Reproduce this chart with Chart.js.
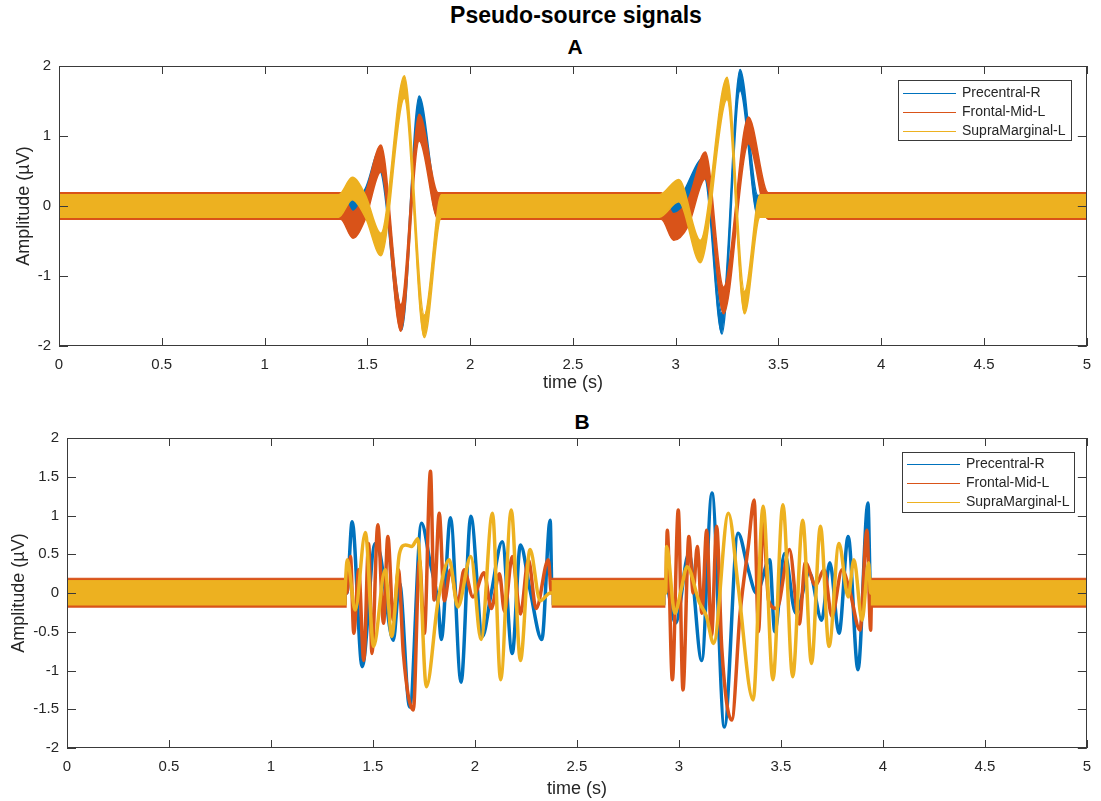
<!DOCTYPE html>
<html>
<head>
<meta charset="utf-8">
<script src="https://cdn.jsdelivr.net/npm/chart.js@4.4.1/dist/chart.umd.min.js"></script>
<style>
    html, body { margin: 0; padding: 0; background: #fff; }
    body { width: 1101px; height: 801px; position: relative; overflow: hidden;
           font-family: 'Liberation Sans', Arial, Helvetica, sans-serif; }
    .caption { position: absolute; transform: translateX(-50%); white-space: nowrap;
               font-weight: bold; color: #000; line-height: 1; }
    #mainTitle { left: 576px; top: 4px; font-size: 23px; }
    #titleA { left: 575px; top: 36px; font-size: 21px; }
    #titleB { left: 582px; top: 411px; font-size: 21px; }
    .panel { position: absolute; left: 0; }
    #panelA { top: 0; }
    #panelB { top: 400px; }
</style>
</head>
<body>
<div id="mainTitle" class="caption">Pseudo-source signals</div>
<div id="titleA" class="caption">A</div>
<div id="titleB" class="caption">B</div>
<canvas id="panelA" class="panel" width="1101" height="400"></canvas>
<canvas id="panelB" class="panel" width="1101" height="401"></canvas>
<script>
    // series names and colours (Precentral-R, Frontal-Mid-L, SupraMarginal-L)
    const seriesNames = ['Precentral-R', 'Frontal-Mid-L', 'SupraMarginal-L'];
    const seriesColors = ['#0072BD', '#D95319', '#EDB120'];

    const timeTicks = [0, 0.5, 1, 1.5, 2, 2.5, 3, 3.5, 4, 4.5, 5];
    const ampTicksA = [-2, -1, 0, 1, 2];
    const ampTicksB = [-2, -1.5, -1, -0.5, 0, 0.5, 1, 1.5, 2];

    // half-height of the noise band on each signal (µV)
    const noiseAmp = [0.15, 0.19, 0.16];

    // panel A: centre line of each signal (time in s, amplitude in µV)
    const aTimePre = [0, 1.37, 1.43, 1.49, 1.56, 1.667, 1.752, 1.84, 2.95, 3.00, 3.14, 3.225, 3.313, 3.40, 5];
    const aPre = [0, 0, -0.06, 0.1, 0.65, -1.62, 1.42, 0, 0, -0.06, 0.55, -1.68, 1.8, 0, 0];

    const aTimeFro = [0, 1.37, 1.43, 1.49, 1.566, 1.663, 1.752, 1.845, 2.93, 2.99, 3.06, 3.144, 3.233, 3.354, 3.45, 5];
    const aFro = [0, 0, -0.27, 0, 0.68, -1.6, 1.12, 0, 0, -0.3, -0.1, 0.58, -1.35, 1.08, 0, 0];

    const aTimeSup = [0, 1.36, 1.427, 1.49, 1.566, 1.68, 1.777, 1.86, 2.92, 3.015, 3.12, 3.25, 3.335, 3.41, 5];
    const aSup = [0, 0, 0.25, 0, -0.55, 1.7, -1.72, 0, 0, 0.22, -0.65, 1.68, -1.38, 0, 0];

    // panel B: centre line of each signal
    const bTimePre = [0, 1.372, 1.398, 1.447, 1.511, 1.535, 1.60, 1.63, 1.68, 1.738, 1.78, 1.819, 1.835, 1.88,
        1.932, 1.98, 2.037, 2.08, 2.134, 2.183, 2.223, 2.27, 2.328, 2.369, 2.378, 2.94, 2.984, 3.049, 3.112,
        3.162, 3.223, 3.29, 3.34, 3.38, 3.445, 3.47, 3.518, 3.573, 3.64, 3.70, 3.74, 3.785, 3.83, 3.878,
        3.927, 3.94, 5];
    const bPre = [0, 0, 0.92, -0.95, 0.64, 0.5, -0.61, 0.13, -1.47, 0.9, 0.4, -0.13, -0.6, 0.97,
        -1.15, 0.99, -0.56, 0, 0.66, -0.78, 0.62, 0.04, -0.6, 0.94, 0, 0.04, -0.39, 0.51, -0.87,
        1.29, -1.73, 0.77, 0.3, 0, 0.43, -0.5, 0.51, -0.26, 0.26, -0.35, 0.39, -0.52, 0.73, -0.99,
        1.16, 0, 0];

    const bTimeFro = [0, 1.372, 1.39, 1.406, 1.43, 1.455, 1.479, 1.495, 1.524, 1.552, 1.573, 1.60, 1.625,
        1.649, 1.698, 1.728, 1.752, 1.782, 1.80, 1.825, 1.85, 1.88, 1.916, 1.947, 1.99, 2.045, 2.08, 2.12,
        2.145, 2.183, 2.223, 2.262, 2.30, 2.36, 2.375, 2.935, 2.943, 2.968, 2.997, 3.02, 3.049, 3.07, 3.09,
        3.113, 3.136, 3.16, 3.185, 3.21, 3.259, 3.30, 3.34, 3.369, 3.39, 3.413, 3.44, 3.48, 3.542, 3.59,
        3.62, 3.67, 3.712, 3.75, 3.80, 3.84, 3.888, 3.922, 3.94, 3.945, 5];
    const bFro = [0, 0, 0.47, -0.52, 0.3, -0.87, 0.64, -0.78, 0.88, -0.39, 0.73, -0.35, 0.3,
        -0.78, -1.51, 0.43, -0.52, 1.57, -0.09, 1.03, -0.1, 0.3, -0.13, 0.3, -0.05, 0.26, -0.2, 0.25,
        -0.24, 0.47, -0.27, 0.43, -0.2, 0.43, 0, 0, 0.81, -1.12, 1.07, -1.25, 0.73, 0, 0.6,
        -0.26, 0.81, -0.55, 0.86, -0.7, -1.64, -0.26, 0.6, 1.2, -0.5, 0.94, -0.1, -0.2, 0.56, -0.4,
        0.39, 0.1, 0.3, -0.3, 0.3, 0, -0.48, 0.81, -0.48, 0, 0];

    const bTimeSup = [0, 1.36, 1.374, 1.413, 1.463, 1.503, 1.56, 1.592, 1.63, 1.66, 1.69, 1.72, 1.762,
        1.82, 1.874, 1.916, 1.98, 2.03, 2.086, 2.126, 2.178, 2.223, 2.27, 2.32, 2.37, 2.935, 2.94, 2.98,
        3.01, 3.04, 3.10, 3.135, 3.17, 3.243, 3.29, 3.364, 3.413, 3.461, 3.51, 3.558, 3.607, 3.65, 3.694,
        3.736, 3.785, 3.83, 3.858, 3.898, 3.93, 3.94, 5];
    const bSup = [0, 0, 0.43, -0.22, 0.78, -0.69, 0.3, -0.56, 0.51, 0.62, 0.6, 0.7, -1.21,
        -0.09, 0.43, -0.18, 0.47, -0.6, 1.03, -1.12, 1.07, -0.87, 0.56, -0.1, 0, 0, 0.6, -0.26,
        0.03, 0.34, -0.12, -0.3, -0.65, 1.03, 0.1, -1.38, 1.12, -1.12, 1.14, -1.08, 0.94, -0.91, 0.86,
        -0.69, 0.64, -0.05, 0.43, -0.35, 0.39, 0, 0];

    // stretches of panel B with only background noise
    const quietB = [[0, 1.372], [2.375, 2.935], [3.94, 5]];

    const FONT = "'Liberation Sans', Arial, Helvetica, sans-serif";
    const AXIS_COLOR = '#3a3a3a';

    // MATLAB style box with inward ticks on all four sides
    const axesBox = {
        id: 'axesBox',
        afterDatasetsDraw(chart) {
            const {ctx, chartArea: a, scales: {x, y}} = chart;
            ctx.save();
            ctx.strokeStyle = AXIS_COLOR;
            ctx.lineWidth = 1;
            ctx.beginPath();
            x.ticks.forEach(function (t) {
                const px = Math.round(x.getPixelForValue(t.value)) + 0.5;
                ctx.moveTo(px, a.bottom);
                ctx.lineTo(px, a.bottom - 8);
                ctx.moveTo(px, a.top);
                ctx.lineTo(px, a.top + 8);
            });
            y.ticks.forEach(function (t) {
                const py = Math.round(y.getPixelForValue(t.value)) + 0.5;
                ctx.moveTo(a.left, py);
                ctx.lineTo(a.left + 9, py);
                ctx.moveTo(a.right, py);
                ctx.lineTo(a.right - 9, py);
            });
            ctx.stroke();
            ctx.strokeRect(Math.round(a.left) + 0.5, Math.round(a.top) + 0.5,
                Math.round(a.width) - 1, Math.round(a.height) - 1);
            ctx.restore();
        }
    };

    const legendBox = {
        id: 'legendBox',
        afterDraw(chart, args, opts) {
            const {ctx, chartArea: a} = chart;
            const x0 = Math.round(a.right - opts.right - opts.width);
            const y0 = Math.round(a.top + opts.top);
            ctx.save();
            ctx.fillStyle = '#fff';
            ctx.fillRect(x0, y0, opts.width, opts.height);
            ctx.strokeStyle = AXIS_COLOR;
            ctx.lineWidth = 1;
            ctx.strokeRect(x0 + 0.5, y0 + 0.5, opts.width, opts.height);
            ctx.font = '14px ' + FONT;
            ctx.textBaseline = 'middle';
            seriesNames.forEach(function (name, i) {
                const yy = y0 + opts.firstRow + i * opts.rowGap;
                ctx.strokeStyle = seriesColors[i];
                ctx.beginPath();
                ctx.moveTo(x0 + 5, yy + 0.5);
                ctx.lineTo(x0 + 58, yy + 0.5);
                ctx.stroke();
                ctx.fillStyle = '#262626';
                ctx.fillText(name, x0 + 64, yy);
            });
            ctx.restore();
        }
    };

    function points(times, values, shift) {
        return times.map(function (t, i) {
            return {x: t, y: values[i] + shift};
        });
    }

    // a signal drawn as its noise band: upper edge, then lower edge filled up to it
    function bandPair(i, times, values) {
        const base = {
            borderColor: seriesColors[i],
            backgroundColor: seriesColors[i],
            borderWidth: 1.5,
            order: 3 - i
        };
        return [
            Object.assign({label: seriesNames[i], data: points(times, values, noiseAmp[i]), fill: false}, base),
            Object.assign({label: seriesNames[i] + ' band', data: points(times, values, -noiseAmp[i]), fill: '-1'}, base)
        ];
    }

    function quietBand(i) {
        const data = [];
        quietB.forEach(function (span) {
            data.push({x: span[0], y: noiseAmp[i]}, {x: span[1], y: noiseAmp[i]}, {x: span[1], y: null});
        });
        return {
            label: seriesNames[i] + ' noise',
            data: data,
            borderColor: seriesColors[i],
            backgroundColor: seriesColors[i],
            borderWidth: 1,
            fill: {value: -noiseAmp[i]},
            spanGaps: false,
            cubicInterpolationMode: 'default',
            tension: 0,
            order: 3 - i
        };
    }

    function burstLine(i, times, values) {
        return {
            label: seriesNames[i],
            data: points(times, values, 0),
            borderColor: seriesColors[i],
            backgroundColor: seriesColors[i],
            borderWidth: 3.5,
            fill: false,
            order: 3 - i
        };
    }

    function renderPanel(idElement, datasets, layout) {
        const tickFont = {family: FONT, size: 15};
        const titleFont = {family: FONT, size: 18};
        return new Chart(idElement, {
            type: 'line',
            data: {datasets: datasets},
            options: {
                responsive: false,
                animation: false,
                events: [],
                layout: {padding: {top: layout.top, right: layout.right, left: 0, bottom: 0}},
                elements: {
                    point: {radius: 0},
                    line: {cubicInterpolationMode: 'monotone'}
                },
                plugins: {
                    legend: {display: false},
                    tooltip: {enabled: false},
                    legendBox: layout.legend
                },
                scales: {
                    x: {
                        type: 'linear',
                        min: 0,
                        max: 5,
                        afterBuildTicks: function (scale) {
                            scale.ticks = timeTicks.map(function (v) { return {value: v}; });
                        },
                        afterFit: function (scale) { scale.height = layout.xHeight; },
                        grid: {display: false, drawTicks: false},
                        border: {display: false},
                        ticks: {
                            color: '#262626', font: tickFont, padding: 10, maxRotation: 0, autoSkip: false,
                            callback: function (v) { return String(v); }
                        },
                        title: {
                            display: true, text: 'time (s)', color: '#262626',
                            font: titleFont, padding: {top: 0, bottom: layout.xTitlePad}
                        }
                    },
                    y: {
                        type: 'linear',
                        min: -2,
                        max: 2,
                        afterBuildTicks: function (scale) {
                            scale.ticks = layout.yTicks.map(function (v) { return {value: v}; });
                        },
                        afterFit: function (scale) { scale.width = layout.yWidth; },
                        grid: {display: false, drawTicks: false},
                        border: {display: false},
                        ticks: {
                            color: '#262626', font: tickFont, padding: 8, autoSkip: false,
                            callback: function (v) { return String(v); }
                        },
                        title: {
                            display: true, text: 'Amplitude (\u00b5V)', color: '#262626',
                            font: titleFont, padding: {top: layout.yTitlePad, bottom: 0}
                        }
                    }
                }
            },
            plugins: [axesBox, legendBox]
        });
    }

    const datasetsA = [].concat(
        bandPair(0, aTimePre, aPre),
        bandPair(1, aTimeFro, aFro),
        bandPair(2, aTimeSup, aSup)
    );

    const datasetsB = [
        burstLine(0, bTimePre, bPre), quietBand(0),
        burstLine(1, bTimeFro, bFro), quietBand(1),
        burstLine(2, bTimeSup, bSup), quietBand(2)
    ];

    window.chartA = renderPanel('panelA', datasetsA, {
        top: 66, right: 9, xHeight: 54, yWidth: 59, yTitlePad: 13, xTitlePad: 6, yTicks: ampTicksA,
        legend: {right: 16, top: 14, width: 173, height: 60, firstRow: 13, rowGap: 19}
    });
    window.chartB = renderPanel('panelB', datasetsB, {
        top: 38, right: 4, xHeight: 53, yWidth: 67, yTitlePad: 8, xTitlePad: 1, yTicks: ampTicksB,
        legend: {right: 13, top: 14, width: 172, height: 60, firstRow: 12, rowGap: 19}
    });
</script>
</body>
</html>
